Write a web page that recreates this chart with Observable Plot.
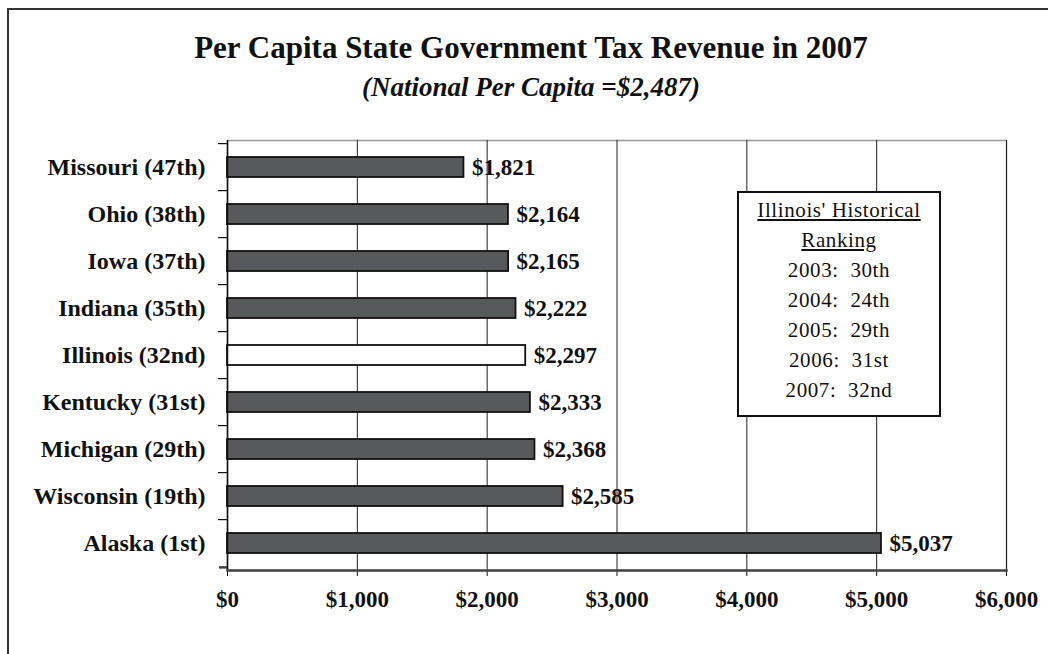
<!DOCTYPE html>
<html>
<head>
<meta charset="utf-8">
<script src="https://cdn.jsdelivr.net/npm/d3@7"></script>
<script src="https://cdn.jsdelivr.net/npm/@observablehq/plot@0.6"></script>
<style>
  body { margin:0; width:1048px; height:654px; overflow:hidden; position:relative; background:#fff; font-family:"Liberation Serif","Times New Roman",serif; }
  #frame { position:absolute; left:7px; top:8px; width:1200px; height:800px; border-left:2px solid #333; border-top:2px solid #333; z-index:5; pointer-events:none; }
  #title { position:absolute; left:0; width:1062px; top:30px; text-align:center; font-weight:bold; font-size:31px; color:#111; line-height:36px; }
  #subtitle { position:absolute; left:0; width:1062px; top:72px; text-align:center; font-weight:bold; font-style:italic; font-size:27px; color:#111; line-height:30px; }
  #chart { position:absolute; left:0; top:130px; }
  #legend { position:absolute; left:737px; top:191px; width:200px; height:220px; border:2px solid #111; background:#fff; text-align:center; font-size:21px; letter-spacing:0.6px; line-height:30px; color:#111; box-sizing:content-box; padding-top:2px; }
  #legend .h { text-decoration:underline; }
</style>
</head>
<body>
<div id="frame"></div>
<div id="title"></div>
<div id="subtitle"></div>
<div id="chart"></div>
<div id="legend"></div>
<script>
const titleText = "Per Capita State Government Tax Revenue in 2007";
const subtitleText = "(National Per Capita =$2,487)";
const states = ["Missouri (47th)", "Ohio (38th)", "Iowa (37th)", "Indiana (35th)", "Illinois (32nd)", "Kentucky (31st)", "Michigan (29th)", "Wisconsin (19th)", "Alaska (1st)"];
const revenue = [1821, 2164, 2165, 2222, 2297, 2333, 2368, 2585, 5037];
const highlight = "Illinois (32nd)";
const xTicks = [0, 1000, 2000, 3000, 4000, 5000, 6000];
const legendTitle = ["Illinois' Historical", "Ranking"];
const legendYears = [2003, 2004, 2005, 2006, 2007];
const legendRanks = ["30th", "24th", "29th", "31st", "32nd"];

document.getElementById("title").textContent = titleText;
document.getElementById("subtitle").textContent = subtitleText;
const lg = document.getElementById("legend");
legendTitle.forEach(t => { const d = document.createElement("div"); d.className = "h"; d.textContent = t; lg.appendChild(d); });
legendYears.forEach((y, i) => { const d = document.createElement("div"); d.textContent = `${y}:\u00a0 ${legendRanks[i]}`; lg.appendChild(d); });

const data = states.map((s, i) => ({state: s, value: revenue[i]}));
const money = d => "$" + d3.format(",")(d);

const W = 1048, H = 524, mT = 10, mB = 84, mL = 227, mR = 42;
const step = (H - mT - mB) / states.length;
const font = "Liberation Serif, Times New Roman, serif";

const chart = Plot.plot({
  width: W, height: H,
  marginTop: mT, marginBottom: mB, marginLeft: mL, marginRight: mR,
  style: {fontFamily: font, background: "none", color: "#111"},
  x: {domain: [0, 6000], ticks: xTicks, label: null},
  y: {domain: states, paddingInner: 0.58, paddingOuter: 0.29, label: null},
  marks: [
    Plot.frame({stroke: "#999", strokeWidth: 1.5}),
    Plot.gridX(xTicks.slice(1), {stroke: "#222", strokeOpacity: 1, strokeWidth: 1}),
    Plot.barX(data, {y: "state", x: "value", fill: d => d.state === highlight ? "#fff" : "#58595b", stroke: "#111", strokeWidth: 1.8}),
    Plot.text(data, {y: "state", x: "value", text: d => money(d.value), textAnchor: "start", dx: 8, fontSize: 23, fontWeight: "bold", fill: "#111"}),
    Plot.axisY({tickSize: 0, tickPadding: 22, fontSize: 24, fontWeight: "bold", fill: "#111"}),
    Plot.axisY({tickSize: 9, text: null, dy: -step / 2, stroke: "#111", strokeWidth: 1.2}),
    Plot.axisY(states.slice(-1), {tickSize: 8, text: null, dy: step / 2, stroke: "#444", strokeWidth: 2.5}),
    Plot.axisX(xTicks, {tickSize: 6, tickPadding: 14, fontSize: 23, fontWeight: "bold", tickFormat: money, stroke: "#111", fill: "#111"}),
    Plot.ruleX([0], {stroke: "#111", strokeWidth: 1.5}),
    Plot.frame({anchor: "bottom", stroke: "#444", strokeWidth: 2.5})
  ]
});
document.getElementById("chart").appendChild(chart);
</script>
</body>
</html>
